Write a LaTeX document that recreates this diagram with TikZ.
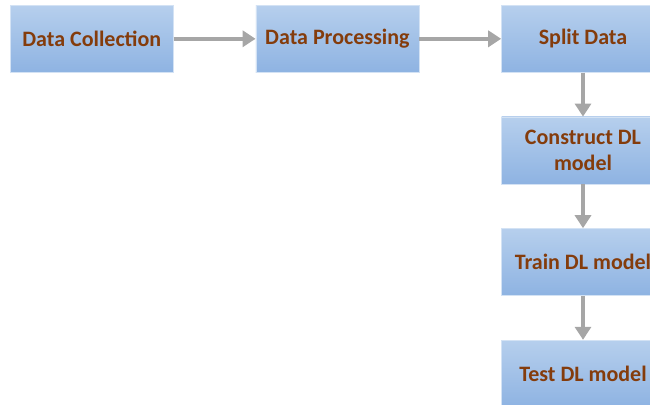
\documentclass[tikz,border=0pt]{standalone}
\usepackage{fontspec}
\setmainfont{Carlito}
\usepackage{tikz}
\usetikzlibrary{arrows.meta}
\usetikzlibrary{positioning}
\definecolor{stepbrown}{RGB}{132,60,12}
\definecolor{steptop}{RGB}{182,207,237}
\definecolor{stepbottom}{RGB}{142,179,226}
\definecolor{flowgray}{RGB}{166,166,166}
\tikzset{
	every node/.style={align=center},
	%
	stepbox/.style={
		top color=steptop, bottom color=stepbottom, draw=steptop!60!white,
		line width=0.6pt, minimum width=163pt, minimum height=67pt,
		inner sep=0pt, text=stepbrown,
		font=\fontsize{22}{26}\selectfont\bfseries},
	%
	flow/.style={-{Triangle[length=13pt,width=16pt]}, flowgray,
		line width=4.5pt, shorten >=0pt},
}

\begin{document}
\begin{tikzpicture}[
			node distance=44pt and 82pt,
		]
		\useasboundingbox (0pt,0pt) rectangle (650pt,-404pt);
		\node (collect) [stepbox, anchor=north west] at (10pt,-5pt)
			{Data Collection};
		\node (process) [stepbox, right=of collect] {Data Processing};
		\node (split) [stepbox, right=of process] {Split Data};
		\node (build) [stepbox, below=of split] {Construct DL\\model};
		\node (train) [stepbox, below=of build] {Train DL model};
		\node (test) [stepbox, below=of train] {Test DL model};
		%
		\draw [flow] (collect) -- (process);
		\draw [flow] (process) -- (split);
		\draw [flow] (split) -- (build);
		\draw [flow] (build) -- (train);
		\draw [flow] (train) -- (test);
	\end{tikzpicture}
\end{document}
